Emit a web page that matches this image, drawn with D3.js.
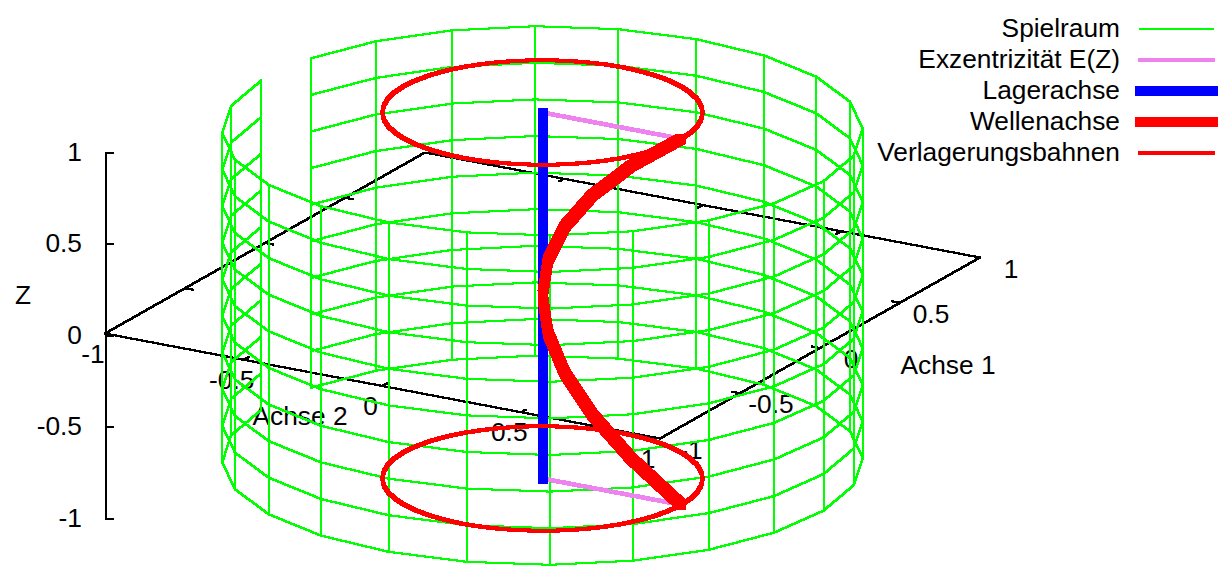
<!DOCTYPE html>
<html>
<head>
<meta charset="utf-8">
<script src="https://cdnjs.cloudflare.com/ajax/libs/d3/7.8.5/d3.min.js"></script>
<style>
html,body{margin:0;padding:0;background:#fff;overflow:hidden}
svg{display:block}
text{font-family:"Liberation Sans",Arial,sans-serif;font-size:26.3px;fill:#000}
</style>
</head>
<body>
<svg id="c" width="1229" height="580"></svg>
<script>
// ---- data ----
const axisTicks = [-1, -0.5, 0, 0.5, 1];
const wallAngles = [-76.3,-61.3,-46.3,-31.3,-16.3,-1.3,13.7,28.7,43.7,58.7,73.7,88.7,103.7,118.7,133.7,148.7,163.7,178.7,193.7,208.7,223.7,238.7,253.7,268.7];
const wallLevels = [-0.9,-0.7,-0.5,-0.3,-0.1,0.1,0.3,0.5,0.7,0.9];
const wallRadius = 1;
const orbitAngles = [90,97.5,105,112.5,120,127.5,135,142.5,150,157.5,165,172.5,180,187.5,195,202.5,210,217.5,225,232.5,240,247.5,255,262.5,270,277.5,285,292.5,300,307.5,315,322.5,330,337.5,345,352.5,360,367.5,375,382.5,390,397.5,405,412.5,420,427.5,435,442.5,450];
const orbitRadius = 0.5;
const orbitLevels = [1, -1];
const shaftZ = [1,0.8,0.6,0.4,0.2,0,-0.2,-0.4,-0.6,-0.8,-1];
const shaftY = [0.5,0.32,0.18,0.08,0.02,0,0.02,0.08,0.18,0.32,0.5];
const legendLabels = ["Spielraum","Exzentrizität E(Z)","Lagerachse","Wellenachse","Verlagerungsbahnen"];
const legendColors = ["#00ff00","#ee82ee","#0000ff","#ff0000","#ff0000"];
const legendWidths = [2,4,10,10,4];
const axisNames = {x:"Achse 1", y:"Achse 2", z:"Z"};

// ---- scales: oblique projection of (x,y,z) to the page ----
const xToH = d3.scaleLinear().domain([-1,1]).range([-160,160]);
const xToV = d3.scaleLinear().domain([-1,1]).range([90.5,-90.5]);
const yToH = d3.scaleLinear().domain([-1,1]).range([-277.5,277.5]);
const yToV = d3.scaleLinear().domain([-1,1]).range([-52.5,52.5]);
const zToV = d3.scaleLinear().domain([-1,1]).range([183,-183]);
const centre = [542.5, 295.5];
const px = d => centre[0] + xToH(d[0]) + yToH(d[1]);
const py = d => centre[1] + xToV(d[0]) + yToV(d[1]) + zToV(d[2]);
const rad = d => d * Math.PI / 180;
const polar = (r, a, z) => [r*Math.cos(rad(a)), r*Math.sin(rad(a)), z];

// a polyline drawn with a square pen, as a raster terminal does
const brush = (pts, w) => pts.slice(1).map((p, i) => {
  const h = w / 2;
  const ends = [[px(pts[i]), py(pts[i])], [px(p), py(p)]];
  const box = ends.flatMap(c => [[c[0]-h,c[1]-h],[c[0]+h,c[1]-h],[c[0]+h,c[1]+h],[c[0]-h,c[1]+h]]);
  return "M" + d3.polygonHull(box).join("L") + "Z";
}).join("");

const svg = d3.select("#c");

// ---- tick labels + axis titles (beneath the marks) ----
const labels = svg.append("g");
const centred = (g, t, x, y) => g.append("text").attr("x",x).attr("y",y).attr("text-anchor","middle").attr("dominant-baseline","central").text(t);
axisTicks.forEach(v => {
  centred(labels, String(v), px([-1,v,0]) - 12, py([-1,v,0]) + 20);
  centred(labels, String(v), px([v,1,0]) + 31, py([v,1,0]) + 11);
});
centred(labels, axisNames.y, 300, 416);
centred(labels, axisNames.x, 948, 365);
centred(labels, axisNames.z, 23, 295);

// ---- base rectangle ----
const base = svg.append("g").attr("fill","#000").attr("stroke","none").attr("shape-rendering","crispEdges");
const corners = [[-1,-1,0],[-1,1,0],[1,1,0],[1,-1,0],[-1,-1,0]];
base.append("path").attr("d", brush(corners, 2));
const tickLen = 0.03;
const baseTicks = [];
axisTicks.forEach(v => {
  baseTicks.push([[v,-1,0],[v,-1+tickLen,0]]);
  baseTicks.push([[v,1,0],[v,1-tickLen,0]]);
  baseTicks.push([[-1,v,0],[-1+tickLen,v,0]]);
  baseTicks.push([[1,v,0],[1-tickLen,v,0]]);
});
base.selectAll("path.t").data(baseTicks).join("path").attr("class","t").attr("d", d => brush(d, 2));

// ---- Z axis ----
const zAxisScale = d3.scaleLinear().domain([-1,1]).range([518,152]);
const zAxis = svg.append("g").attr("transform","translate(105,0)")
  .call(d3.axisLeft(zAxisScale).tickValues(axisTicks).tickFormat(String).tickSizeInner(-9).tickSizeOuter(0).tickPadding(23));
zAxis.selectAll("line,path").attr("stroke","#000").attr("stroke-width",2).attr("shape-rendering","crispEdges");
zAxis.selectAll("text").style("font-size","26.3px").style("font-family",'"Liberation Sans",Arial,sans-serif');

// ---- clearance wall ----
const wall = svg.append("g").attr("fill","#00ff00").attr("shape-rendering","crispEdges");
wall.selectAll("path.v").data(wallAngles).join("path").attr("class","v")
  .attr("d", a => brush(wallLevels.map(z => polar(wallRadius,a,z)), 2));
wall.selectAll("path.r").data(wallLevels).join("path").attr("class","r")
  .attr("d", z => brush(wallAngles.map(a => polar(wallRadius,a,z)), 2));

// ---- eccentricity, bearing axis, orbits, shaft axis ----
const marks = svg.append("g").attr("shape-rendering","crispEdges");
orbitLevels.forEach(z => {
  marks.append("path").attr("d", brush([[0,0,z],[0,orbitRadius,z]], legendWidths[1])).attr("fill",legendColors[1]);
});
marks.append("path").attr("d", brush([[0,0,1],[0,0,-1]], legendWidths[2])).attr("fill",legendColors[2]);
orbitLevels.forEach(z => {
  marks.append("path").attr("d", brush(orbitAngles.map(a => polar(orbitRadius,a,z)), legendWidths[4])).attr("fill",legendColors[4]);
});
marks.append("path").attr("d", brush(shaftZ.map((z,i) => [0,shaftY[i],z]), legendWidths[3])).attr("fill",legendColors[3]);

// ---- legend ----
const legendY = d3.scalePoint().domain(legendLabels).range([29,153]);
const keyInset = [4,3,0,0,3];
const leg = svg.append("g");
legendLabels.forEach((t,i) => {
  const y = legendY(t);
  leg.append("text").attr("x",1120).attr("y",y-1).attr("text-anchor","end").attr("dominant-baseline","central").text(t);
  leg.append("line").attr("x1",1135+keyInset[i]).attr("x2",1218-keyInset[i]).attr("y1",y).attr("y2",y)
    .attr("stroke",legendColors[i]).attr("stroke-width",legendWidths[i]).attr("shape-rendering","crispEdges");
});
</script>
</body>
</html>
